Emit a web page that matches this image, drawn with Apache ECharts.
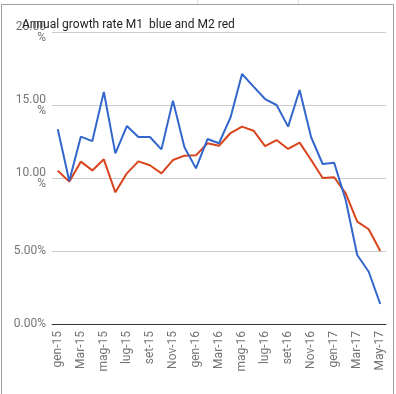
<!DOCTYPE html>
<html><head><meta charset="utf-8">
<script src="https://cdn.jsdelivr.net/npm/echarts@6/dist/echarts.min.js"></script>
<style>html,body{margin:0;padding:0;background:#fff}#c{width:396px;height:394px}</style>
</head><body><div id="c"></div>
<script>
const months = ['gen-15','feb-15','Mar-15','apr-15','mag-15','giu-15','lug-15','ago-15','set-15','ott-15','Nov-15','dic-15',
  'gen-16','feb-16','Mar-16','apr-16','mag-16','giu-16','lug-16','ago-16','set-16','ott-16','Nov-16','dic-16',
  'gen-17','feb-17','Mar-17','apr-17','May-17'];
const m1 = [13.34,9.8,12.83,12.53,15.9,11.69,13.56,12.81,12.81,11.96,15.3,12.1,
  10.66,12.67,12.38,14.15,17.12,16.26,15.41,15.0,13.52,16.03,12.79,10.96,
  11.05,8.49,4.73,3.58,1.37];
const m2 = [10.5,9.75,11.12,10.52,11.28,9.02,10.32,11.14,10.87,10.32,11.23,11.53,
  11.55,12.38,12.21,13.08,13.52,13.24,12.19,12.6,11.99,12.42,11.23,10.0,
  10.05,8.95,7.01,6.49,5.0];
const yTicks = [0,5,10,15,20];
const titleText = 'Annual growth rate M1  blue and M2 red';

const chart = echarts.init(document.getElementById('c'));
chart.setOption({
  animation:false,
  backgroundColor:'#fff',
  title:{text:titleText,left:17,top:14,textStyle:{fontFamily:'Roboto',fontSize:12,fontWeight:'normal',color:'#222'}},
  grid:{left:52,right:10,top:32,bottom:70,containLabel:false},
  xAxis:{type:'category',data:months,boundaryGap:true,
    axisLine:{show:true,lineStyle:{color:'#333',width:1}},
    axisTick:{show:false},
    axisLabel:{interval:1,rotate:90,margin:7,color:'#757575',fontFamily:'Roboto',fontSize:12},
    splitLine:{show:false}},
  yAxis:{type:'value',min:yTicks[0],max:yTicks[yTicks.length-1],interval:5,
    axisLine:{show:false},axisTick:{show:false},
    axisLabel:{margin:6,color:'#757575',fontFamily:'Roboto',fontSize:12,lineHeight:11,
      formatter:v=>v>=10?v.toFixed(2)+'\n%':v.toFixed(2)+'%'},
    splitLine:{lineStyle:{color:'#cccccc',width:1}}},
  graphic:[
    {type:'rect',shape:{x:1.5,y:4.5,width:392,height:400},style:{fill:null,stroke:'#9e9e9e',lineWidth:1},silent:true,z:-1},
    {type:'line',shape:{x1:197.5,y1:0,x2:197.5,y2:4},style:{stroke:'#e0e0e0',lineWidth:1},silent:true},
    {type:'line',shape:{x1:298.5,y1:0,x2:298.5,y2:4},style:{stroke:'#e0e0e0',lineWidth:1},silent:true}
  ],
  series:[
    {name:'M1',type:'line',data:m1,showSymbol:false,symbol:'none',lineStyle:{color:'#3366cc',width:2},z:3},
    {name:'M2',type:'line',data:m2,showSymbol:false,symbol:'none',lineStyle:{color:'#d9441c',width:2},z:2}
  ]
});
</script></body></html>
